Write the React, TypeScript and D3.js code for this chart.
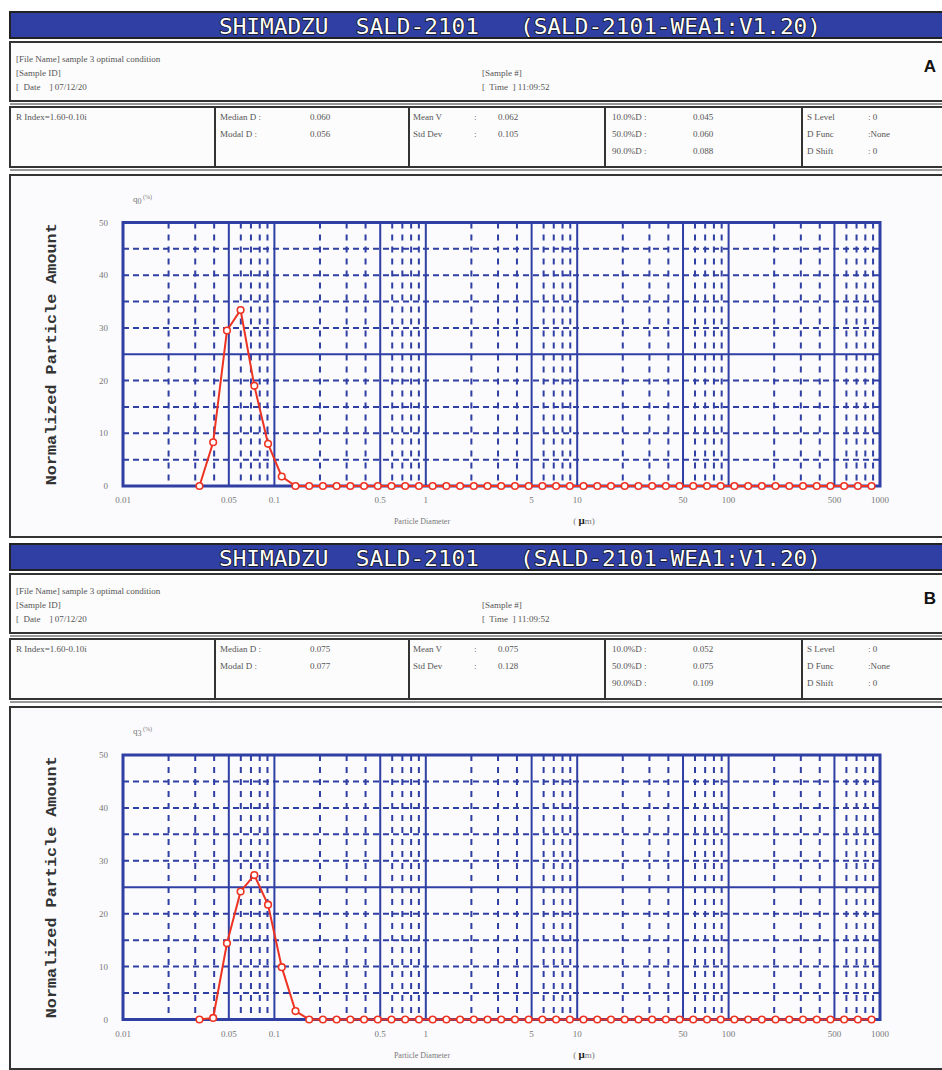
import React from "react";
import * as d3 from "d3";

// ---- data ----
const SIZES = [
  0.032, 0.0394, 0.0486, 0.0598, 0.0737, 0.0908, 0.1118, 0.1378, 0.1698, 0.2091,
  0.2576, 0.3174, 0.3911, 0.4818, 0.5935, 0.7311, 0.9006, 1.11, 1.367, 1.684,
  2.075, 2.556, 3.149, 3.879, 4.779, 5.888, 7.254, 8.937, 11.01, 13.57,
  16.71, 20.59, 25.37, 31.25, 38.5, 47.42, 58.43, 71.98, 88.67, 109.2,
  134.6, 165.8, 204.2, 251.6, 310.0, 381.9, 470.5, 579.6, 714.0, 879.6,
];
const Q0_A = [
  0, 8.3, 29.5, 33.4, 19.0, 8.0, 1.8, 0, 0, 0,
  0, 0, 0, 0, 0, 0, 0, 0, 0, 0,
  0, 0, 0, 0, 0, 0, 0, 0, 0, 0,
  0, 0, 0, 0, 0, 0, 0, 0, 0, 0,
  0, 0, 0, 0, 0, 0, 0, 0, 0, 0,
];
const Q3_B = [
  0, 0.3, 14.4, 24.2, 27.3, 21.7, 9.9, 1.6, 0, 0,
  0, 0, 0, 0, 0, 0, 0, 0, 0, 0,
  0, 0, 0, 0, 0, 0, 0, 0, 0, 0,
  0, 0, 0, 0, 0, 0, 0, 0, 0, 0,
  0, 0, 0, 0, 0, 0, 0, 0, 0, 0,
];
const X_TICKS = [0.01, 0.05, 0.1, 0.5, 1, 5, 10, 50, 100, 500, 1000];
const X_TICK_LABELS = ["0.01", "0.05", "0.1", "0.5", "1", "5", "10", "50", "100", "500", "1000"];
const Y_TICKS = [0, 10, 20, 30, 40, 50];

const STATS_A = { median: "0.060", modal: "0.056", mean: "0.062", std: "0.105", d10: "0.045", d50: "0.060", d90: "0.088" };
const STATS_B = { median: "0.075", modal: "0.077", mean: "0.075", std: "0.128", d10: "0.052", d50: "0.075", d90: "0.109" };

const BLUE = "#2f3fa3";
const RED = "#ee3322";
const GRAY = "#777";
const DARK = "#333";

const PX0 = 123, PX1 = 880;

function Panel({ dy, values, letter, stats, qsub, top, bottom }) {
  const x = d3.scaleLog().domain([0.01, 1000]).range([PX0, PX1]);
  const y = d3.scaleLinear().domain([0, 50]).range([bottom, top]);
  const allTicks = x.ticks();
  const mant = (t) => Math.round(t / Math.pow(10, Math.floor(Math.log10(t) + 1e-9)));
  const solidX = allTicks.filter((t) => (mant(t) === 1 || mant(t) === 5) && t > 0.01 && t < 1000);
  const dashX = allTicks.filter((t) => mant(t) !== 1 && mant(t) !== 5);
  const dashY = [5, 10, 15, 20, 30, 35, 40, 45];
  const line = d3.line().x((d) => x(d[0])).y((d) => y(d[1]));
  const pts = SIZES.map((s, i) => [s, values[i]]);
  const infoFont = { fontFamily: "Liberation Serif, serif", fontSize: 9, fill: "#555" };
  const row = (i) => 120 + i * 17;
  return (
    <g transform={`translate(0,${dy})`}>
      {/* header bar */}
      <rect x={10} y={12} width={940} height={26} fill={BLUE} stroke="#222" strokeWidth={2} />
      <text x={520} y={34} textAnchor="middle" textLength={602} lengthAdjust="spacingAndGlyphs"
        style={{ fontFamily: "DejaVu Sans Mono, monospace", fontSize: 22, fill: "#fff", stroke: "#111", strokeWidth: 1.4, paintOrder: "stroke", whiteSpace: "pre" }}>
        {"SHIMADZU  SALD-2101   (SALD-2101-WEA1:V1.20)"}
      </text>
      {/* info box */}
      <rect x={10} y={42} width={940} height={59} fill="#fcfcfc" stroke={DARK} strokeWidth={2} />
      <text x={16} y={62} style={infoFont}>[File Name] sample 3 optimal condition</text>
      <text x={16} y={76} style={infoFont}>[Sample ID]</text>
      <text x={16} y={90} style={{ ...infoFont, whiteSpace: "pre" }}>{"[  Date    ] 07/12/20"}</text>
      <text x={482} y={76} style={infoFont}>[Sample #]</text>
      <text x={482} y={90} style={{ ...infoFont, whiteSpace: "pre" }}>{"[  Time  ] 11:09:52"}</text>
      <text x={930} y={72} textAnchor="middle" style={{ fontFamily: "Liberation Sans, Arial, sans-serif", fontWeight: "bold", fontSize: 17, fill: "#111" }}>{letter}</text>
      {/* stats table */}
      <rect x={10} y={107} width={940} height={60} fill="#fcfcfc" stroke={DARK} strokeWidth={2} />
      <line x1={10} x2={950} y1={104} y2={104} stroke={DARK} strokeWidth={1} />
      <line x1={10} x2={950} y1={170} y2={170} stroke={DARK} strokeWidth={1} />
      {[215, 409, 605, 802].map((cx) => (
        <line key={cx} x1={cx} x2={cx} y1={107} y2={167} stroke={DARK} strokeWidth={2} />
      ))}
      <text x={16} y={row(0)} style={infoFont}>R Index=1.60-0.10i</text>
      <text x={220} y={row(0)} style={infoFont}>Median D :</text>
      <text x={310} y={row(0)} style={infoFont}>{stats.median}</text>
      <text x={220} y={row(1)} style={infoFont}>Modal  D :</text>
      <text x={310} y={row(1)} style={infoFont}>{stats.modal}</text>
      <text x={413} y={row(0)} style={infoFont}>Mean V</text>
      <text x={474} y={row(0)} style={infoFont}>:</text>
      <text x={498} y={row(0)} style={infoFont}>{stats.mean}</text>
      <text x={413} y={row(1)} style={infoFont}>Std Dev</text>
      <text x={474} y={row(1)} style={infoFont}>:</text>
      <text x={498} y={row(1)} style={infoFont}>{stats.std}</text>
      <text x={612} y={row(0)} style={infoFont}>10.0%D :</text>
      <text x={693} y={row(0)} style={infoFont}>{stats.d10}</text>
      <text x={612} y={row(1)} style={infoFont}>50.0%D :</text>
      <text x={693} y={row(1)} style={infoFont}>{stats.d50}</text>
      <text x={612} y={row(2)} style={infoFont}>90.0%D :</text>
      <text x={693} y={row(2)} style={infoFont}>{stats.d90}</text>
      <text x={807} y={row(0)} style={infoFont}>S Level</text>
      <text x={868} y={row(0)} style={infoFont}>:  0</text>
      <text x={807} y={row(1)} style={infoFont}>D Func</text>
      <text x={868} y={row(1)} style={infoFont}>:None</text>
      <text x={807} y={row(2)} style={infoFont}>D Shift</text>
      <text x={868} y={row(2)} style={infoFont}>:  0</text>
      {/* plot box */}
      <rect x={10} y={175} width={940} height={362} fill="#fbfbfd" stroke={DARK} strokeWidth={2} />
      {/* grid */}
      {dashY.map((v) => (
        <line key={"hy" + v} x1={PX0} x2={PX1} y1={y(v)} y2={y(v)} stroke={BLUE} strokeWidth={2} strokeDasharray="6,4" />
      ))}
      {dashX.map((v) => (
        <line key={"dx" + v} x1={x(v)} x2={x(v)} y1={top} y2={bottom} stroke={BLUE} strokeWidth={2} strokeDasharray="6,6" />
      ))}
      {solidX.map((v) => (
        <line key={"sx" + v} x1={x(v)} x2={x(v)} y1={top} y2={bottom} stroke={BLUE} strokeWidth={2} />
      ))}
      <line x1={PX0} x2={PX1} y1={y(25)} y2={y(25)} stroke={BLUE} strokeWidth={2} />
      <rect x={PX0} y={top} width={PX1 - PX0} height={bottom - top} fill="none" stroke={BLUE} strokeWidth={3} />
      {/* ticks */}
      {Y_TICKS.map((v) => (
        <text key={"yt" + v} x={108} y={y(v) + 3} textAnchor="end" style={{ fontFamily: "Liberation Serif, serif", fontSize: 9, fill: GRAY }}>{v}</text>
      ))}
      {X_TICKS.map((v, i) => (
        <text key={"xt" + v} x={x(v)} y={bottom + 17} textAnchor="middle" style={{ fontFamily: "Liberation Serif, serif", fontSize: 9, fill: GRAY }}>{X_TICK_LABELS[i]}</text>
      ))}
      <text x={133} y={top - 21} style={{ fontFamily: "Liberation Serif, serif", fontSize: 9, fill: GRAY }}>
        q<tspan dy={2} fontSize={8}>{qsub}</tspan><tspan dy={-5} fontSize={6}> (%)</tspan>
      </text>
      <text transform={`translate(56,${(top + bottom) / 2}) rotate(-90)`} textAnchor="middle" textLength={262} lengthAdjust="spacingAndGlyphs"
        style={{ fontFamily: "Liberation Mono, Courier New, monospace", fontWeight: "bold", fontSize: 15, fill: DARK }}>
        Normalized Particle Amount
      </text>
      <text x={422} y={bottom + 38} textAnchor="middle" style={{ fontFamily: "Liberation Serif, serif", fontSize: 8, fill: GRAY }}>Particle Diameter</text>
      <text x={584} y={bottom + 38} textAnchor="middle" style={{ fontFamily: "Liberation Serif, serif", fontSize: 9, fill: GRAY, whiteSpace: "pre" }}>
        {"( "}<tspan fontWeight="bold" fill="#222" fontSize={11}>μ</tspan>{"m)"}
      </text>
      {/* data */}
      <path d={line(pts) || ""} fill="none" stroke={RED} strokeWidth={2} />
      {pts.map((p, i) => (
        <circle key={"pt" + i} cx={x(p[0])} cy={y(p[1])} r={3.3} fill="#fff" stroke={RED} strokeWidth={1.6} />
      ))}
    </g>
  );
}

export default function App() {
  return (
    <svg width={942} height={1070} style={{ position: "absolute", left: 0, top: 0, background: "#fff" }}>
      <Panel dy={0} values={Q0_A} letter="A" stats={STATS_A} qsub="0" top={222.5} bottom={486} />
      <Panel dy={532} values={Q3_B} letter="B" stats={STATS_B} qsub="3" top={223} bottom={487.5} />
    </svg>
  );
}
